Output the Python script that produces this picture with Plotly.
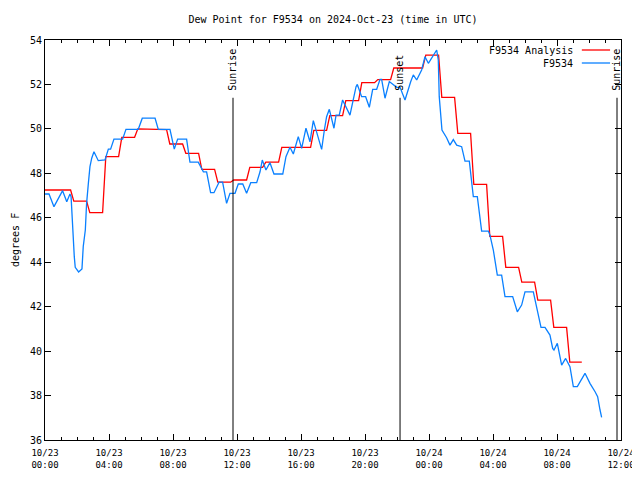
import pandas as pd
import plotly.graph_objects as go

BASE = pd.Timestamp("2024-10-23 00:00")

# Analysis (hourly values, hour index from 10/23 00:00 UTC)
red_hours = list(range(34))
red_vals = [47.25, 47.25, 46.75, 46.23, 48.75, 49.62, 50.0, 49.97, 49.32, 48.9,
            48.18, 47.6, 47.7, 48.27, 48.5, 49.17, 49.17, 49.93, 50.6, 51.27,
            52.08, 52.22, 52.74, 52.74, 53.32, 51.42, 49.8, 47.5, 45.16, 43.77,
            43.1, 42.29, 41.07, 39.5]

# Observations (hours from 10/23 00:00 UTC)
blue_hours = [0.0, 0.25, 0.56, 1.1, 1.36, 1.56, 1.63, 1.69, 1.77, 1.83, 1.89, 2.1, 2.31,
              2.39, 2.52, 2.6, 2.71, 2.81, 2.92, 3.06, 3.33, 3.6, 3.75, 3.96, 4.1, 4.31,
              4.85, 5.06, 5.83, 6.08, 6.88, 7.08, 7.81, 8.08, 8.29, 8.85, 9.06, 9.58,
              9.9, 10.1, 10.35, 10.56, 10.88, 11.1, 11.35, 11.56, 11.875, 12.08, 12.36,
              12.6, 12.86, 13.23, 13.44, 13.58, 13.81, 14.06, 14.31, 14.86, 15.06, 15.31,
              15.52, 15.83, 16.04, 16.31, 16.56, 16.77, 17.29, 17.46, 17.6, 17.77, 18.06,
              18.19, 18.39, 18.6, 19.06, 19.44, 19.52, 19.79, 20.04, 20.27, 20.48, 20.73,
              20.94, 21.04, 21.25, 21.52, 21.98, 22.19, 22.5, 22.86, 23.02, 23.23, 23.54,
              23.75, 23.96, 24.48, 24.58, 24.64, 24.73, 24.81, 25.1, 25.31, 25.52, 25.73,
              26.04, 26.19, 26.25, 26.52, 26.6, 26.73, 26.77, 27.02, 27.11, 27.23, 27.29,
              27.71, 27.81, 28.02, 28.19, 28.27, 28.54, 28.64, 28.75, 29.23, 29.38, 29.52,
              29.79, 30.0, 30.52, 30.63, 30.83, 31.0, 31.25, 31.56, 31.73, 31.81, 32.02,
              32.14, 32.29, 32.54, 32.81, 33.02, 33.27, 33.75, 34.06, 34.38, 34.54, 34.69,
              34.79]
blue_vals = [47.07, 47.07, 46.5, 47.22, 46.72, 47.07, 46.95, 45.9, 45.08, 44.25, 43.77, 43.56, 43.7,
             44.7, 45.45, 46.65, 47.55, 48.3, 48.68, 48.97, 48.57, 48.6, 48.6, 49.09, 49.09, 49.54,
             49.54, 49.98, 49.98, 50.48, 50.48, 49.98, 49.98, 49.09, 49.54, 49.54, 48.5, 48.5,
             48.07, 48.07, 47.13, 47.13, 47.6, 47.6, 46.65, 47.1, 47.1, 47.52, 47.52,
             47.1, 47.58, 47.58, 48.07, 48.6, 48.15, 48.48, 47.97, 47.97, 48.75, 49.17,
             48.87, 49.65, 49.12, 50.03, 49.42, 50.37, 49.08, 49.95, 50.55, 50.88, 50.03,
             50.62, 50.62, 51.3, 50.62, 51.9, 52.0, 51.45, 51.45, 50.97, 51.78, 51.78,
             52.23, 52.23, 51.38, 52.13, 51.87, 51.87, 51.3, 52.13, 52.43, 52.2, 52.65,
             53.25, 52.95, 53.55, 53.1, 51.45, 50.4, 49.95, 49.6, 49.27, 49.52, 49.27,
             49.2, 48.75, 48.55, 48.55, 47.92, 47.1, 46.95, 46.95, 46.35, 45.6, 45.4,
             45.4, 45.22, 44.55, 43.65, 43.42, 43.42, 42.9, 42.45, 42.45, 42.07, 41.77,
             42.07, 42.67, 42.67, 42.3, 41.55, 41.07, 41.07, 40.72, 40.12, 40.05, 40.35,
             39.9, 39.37, 39.67, 39.3, 38.4, 38.4, 39.0, 38.55, 38.17, 37.95, 37.35,
             37.02]

# Sun events (hours from 10/23 00:00 UTC)
sun_hours = [11.75, 22.19, 35.75]
sun_labels = ["Sunrise", "Sunset", "Sunrise"]

tick_hours = [0, 4, 8, 12, 16, 20, 24, 28, 32, 36]
tick_labels = ["10/23<br>00:00", "10/23<br>04:00", "10/23<br>08:00", "10/23<br>12:00",
               "10/23<br>16:00", "10/23<br>20:00", "10/24<br>00:00", "10/24<br>04:00",
               "10/24<br>08:00", "10/24<br>12:00"]


def t(h):
    return BASE + pd.to_timedelta(h, unit="h")


# analysis as hourly steps with short ramps
rx, ry = [], []
for i, (k, v) in enumerate(zip(red_hours, red_vals)):
    start = max(k - 0.2, 0)
    end = k + 0.6 if i < len(red_hours) - 1 else k + 0.55
    rx += [start, end]
    ry += [v, v]

FONT = "DejaVu Sans Mono"
W, H = 632, 464  # page body adds an 8px offset on each side

fig = go.Figure()
fig.add_trace(go.Scatter(x=[t(h) for h in rx], y=ry, mode="lines",
                         line=dict(color="#ff0000", width=1.3), name="F9534 Analysis",
                         showlegend=False))
fig.add_trace(go.Scatter(x=[t(h) for h in blue_hours], y=blue_vals, mode="lines",
                         line=dict(color="#0a80ff", width=1.3), name="F9534",
                         showlegend=False))

LINE_TOP = 51.4
for h, lab in zip(sun_hours, sun_labels):
    fig.add_shape(type="line", xref="x", yref="y", x0=t(h), x1=t(h), y0=36, y1=LINE_TOP,
                  line=dict(color="black", width=1))
    fig.add_annotation(x=t(h), y=LINE_TOP, xref="x", yref="y", text=lab, textangle=-90,
                       showarrow=False, xanchor="center", yanchor="bottom", yshift=5,
                       font=dict(family=FONT, size=10, color="black"))

# manual legend (text left of line sample)
legend_items = [("F9534 Analysis", "#ff0000", 0.975), ("F9534", "#0a80ff", 0.9425)]
for name, col, yp in legend_items:
    fig.add_annotation(x=0.92, y=yp, xref="paper", yref="paper", text=name, showarrow=False,
                       xanchor="right", yanchor="middle",
                       font=dict(family=FONT, size=10, color="black"))
    fig.add_shape(type="line", xref="paper", yref="paper", x0=0.932, x1=0.981, y0=yp, y1=yp,
                  line=dict(color=col, width=1.3))

# y-axis title
fig.add_annotation(x=0, y=0.5, xref="paper", yref="paper", text="degrees F", textangle=-90,
                   showarrow=False, xanchor="center", yanchor="middle", xshift=-30,
                   font=dict(family=FONT, size=10, color="black"))

fig.update_layout(
    width=W, height=H,
    margin=dict(l=37, r=19, t=32, b=32, autoexpand=False),
    paper_bgcolor="white", plot_bgcolor="white",
    font=dict(family=FONT, size=10, color="black"),
    title=dict(text="Dew Point for F9534 on 2024-Oct-23 (time in UTC)", x=(37 + 288) / W,
               xanchor="center", xref="container", y=1 - 11 / H, yref="container",
               yanchor="middle", font=dict(family=FONT, size=10)),
    showlegend=False,
)
fig.update_xaxes(range=[t(0), t(36)], tickvals=[t(h) for h in tick_hours], ticktext=tick_labels,
                 showline=True, linecolor="black", linewidth=1, mirror="ticks", automargin=False,
                 ticks="inside", ticklen=6, tickcolor="black", showgrid=False, zeroline=False,
                 tickfont=dict(family=FONT, size=9), ticklabelstandoff=4,
                 minor=dict(dtick=3600000, ticks="inside", ticklen=3, tickcolor="black",
                            showgrid=False))
fig.update_yaxes(range=[36, 54], dtick=2, tick0=36, showline=True, linecolor="black", linewidth=1,
                 mirror="ticks", ticks="inside", ticklen=6, tickcolor="black", showgrid=False,
                 zeroline=False, automargin=False, tickfont=dict(family=FONT, size=10))

fig.write_html("out.html")
